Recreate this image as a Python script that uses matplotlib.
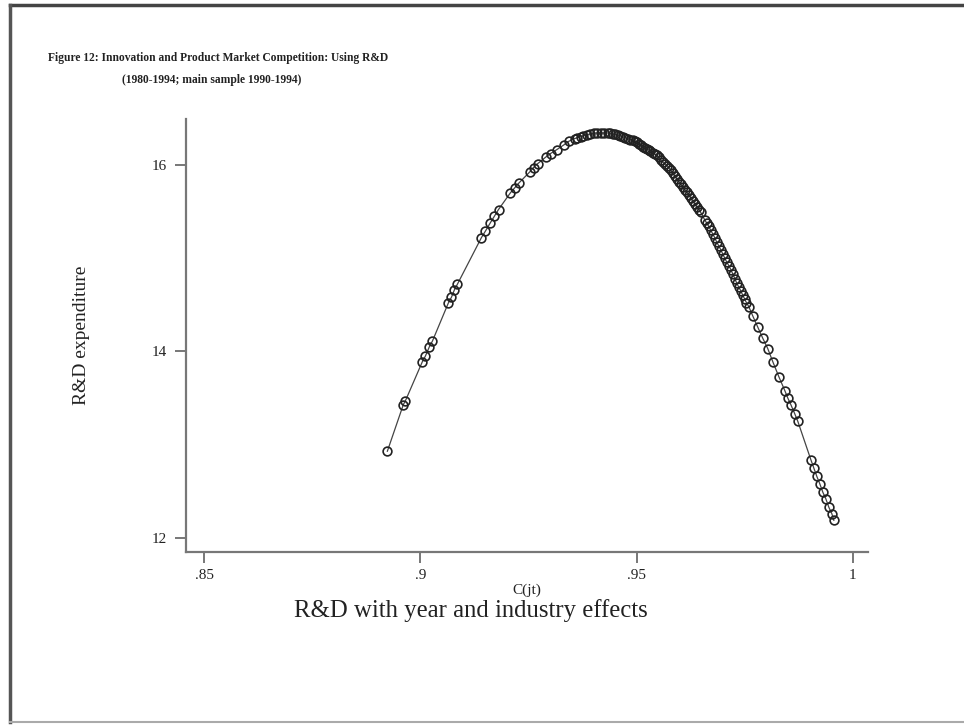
import matplotlib
matplotlib.use("Agg")
import matplotlib.pyplot as plt
from matplotlib.lines import Line2D

# Competition index C(jt) and fitted R&D expenditure
cjt = [0.89236, 0.89606, 0.89653, 0.90046, 0.90116, 0.90208, 0.90278, 0.90648,
       0.90718, 0.90787, 0.90856, 0.91412, 0.91505, 0.91620, 0.91713, 0.91806,
       0.92083, 0.92176, 0.92269, 0.92523, 0.92616, 0.92708, 0.92894, 0.93009,
       0.93148, 0.93310, 0.93426, 0.93565, 0.9363, 0.93704, 0.9377, 0.93843,
       0.9392, 0.94005, 0.9408, 0.94167, 0.9425, 0.94329, 0.9438, 0.94444,
       0.9450, 0.94560, 0.9462, 0.94676, 0.9473, 0.94792, 0.9485, 0.94907,
       0.9496, 0.95000, 0.9505, 0.95093, 0.9514, 0.95185, 0.9523, 0.95278,
       0.9532, 0.95370, 0.9542, 0.95463, 0.9551, 0.95556, 0.9560, 0.95648,
       0.9570, 0.95741, 0.9579, 0.95833, 0.9588, 0.95926, 0.9597, 0.96019,
       0.9607, 0.96111, 0.9616, 0.96204, 0.9625, 0.96296, 0.9635, 0.96389,
       0.9644, 0.96481, 0.96574, 0.9662, 0.96667, 0.9671, 0.96759, 0.9681,
       0.96852, 0.9690, 0.96944, 0.9699, 0.97037, 0.9708, 0.97130, 0.9718,
       0.97222, 0.9727, 0.97315, 0.9736, 0.97407, 0.9745, 0.97500, 0.9754,
       0.97593, 0.97685, 0.97801, 0.97917, 0.98032, 0.98148, 0.98287, 0.98426,
       0.98495, 0.98565, 0.98657, 0.98727, 0.99028, 0.99097, 0.99167, 0.99236,
       0.99306, 0.99375, 0.99444, 0.99514, 0.99560]
rd_exp = [12.93, 13.43, 13.47, 13.89, 13.95, 14.05, 14.11, 14.52,
          14.58, 14.66, 14.72, 15.22, 15.29, 15.38, 15.45, 15.52,
          15.70, 15.75, 15.80, 15.92, 15.97, 16.01, 16.08, 16.12,
          16.16, 16.21, 16.25, 16.28, 16.29, 16.30, 16.31, 16.32,
          16.33, 16.34, 16.34, 16.34, 16.34, 16.34, 16.335, 16.33,
          16.325, 16.32, 16.31, 16.30, 16.29, 16.28, 16.27, 16.26,
          16.25, 16.24, 16.225, 16.21, 16.195, 16.18, 16.17, 16.16,
          16.145, 16.13, 16.115, 16.10, 16.08, 16.05, 16.03, 16.01,
          15.99, 15.97, 15.94, 15.91, 15.88, 15.85, 15.82, 15.79,
          15.76, 15.73, 15.705, 15.68, 15.645, 15.61, 15.58, 15.55,
          15.52, 15.49, 15.41, 15.375, 15.34, 15.30, 15.26, 15.215,
          15.17, 15.13, 15.09, 15.045, 15.00, 14.96, 14.92, 14.875,
          14.83, 14.78, 14.73, 14.69, 14.65, 14.605, 14.56, 14.52,
          14.48, 14.38, 14.26, 14.14, 14.03, 13.89, 13.73, 13.58,
          13.50, 13.43, 13.33, 13.25, 12.84, 12.75, 12.66, 12.58,
          12.49, 12.42, 12.33, 12.26, 12.19]

xticks = [0.85, 0.9, 0.95, 1.0]
xticklabels = [".85", ".9", ".95", "1"]
yticks = [12, 14, 16]
yticklabels = ["12", "14", "16"]

serif = ["Liberation Serif", "DejaVu Serif"]
plt.rcParams["font.family"] = serif

fig = plt.figure(figsize=(9.64, 7.25), dpi=100)
fig.patch.set_facecolor("white")

ax = fig.add_axes([186/964, 1-552/725, (868-186)/964, (552-119)/725])
ax.plot(cjt, rd_exp, color="#444444", lw=0.9, marker="o", markersize=6.3,
        markerfacecolor="none", markeredgecolor="#222222", markeredgewidth=1.2)

ax.set_xlim(0.8458, 1.0035)
ax.set_ylim(11.85, 16.49)
ax.set_xticks(xticks)
ax.set_xticklabels(xticklabels)
ax.set_yticks(yticks)
ax.set_yticklabels(yticklabels)
for s in ["top", "right"]:
    ax.spines[s].set_visible(False)
for s in ["left", "bottom"]:
    ax.spines[s].set_color("#777777")
    ax.spines[s].set_linewidth(1.6)
ax.tick_params(axis="both", direction="out", length=8, width=1.4, color="#777777",
               labelsize=11, labelcolor="#222222")
ax.tick_params(axis="x", pad=4)
ax.tick_params(axis="y", pad=6)
ax.set_ylabel("R&D expenditure", fontsize=14, color="#222222", labelpad=44)
ax.set_xlabel("C(jt)", fontsize=11, color="#222222", labelpad=1)

fig.text(471/964, 1-611/725, "R&D with year and industry effects",
         ha="center", va="center", fontsize=17.8, color="#222222")

fig.text(48/964, 1-58/725,
         "Figure 12: Innovation and Product Market Competition: Using R&D",
         ha="left", va="center", fontsize=8.3, fontweight="bold", color="#222222")
fig.text(122/964, 1-80/725, "(1980-1994; main sample 1990-1994)",
         ha="left", va="center", fontsize=8.3, fontweight="bold", color="#222222")

# page frame
fig.add_artist(Line2D([10/964, 1.0], [1-5/725, 1-5/725], transform=fig.transFigure,
                      color="#444444", lw=2.5))
fig.add_artist(Line2D([10/964, 10/964], [1-5/725, 1-722/725], transform=fig.transFigure,
                      color="#555555", lw=2.5))
fig.add_artist(Line2D([10/964, 1.0], [1-722/725, 1-722/725], transform=fig.transFigure,
                      color="#aaaaaa", lw=1.5))

fig.savefig("out.png", dpi=100, facecolor="white")
